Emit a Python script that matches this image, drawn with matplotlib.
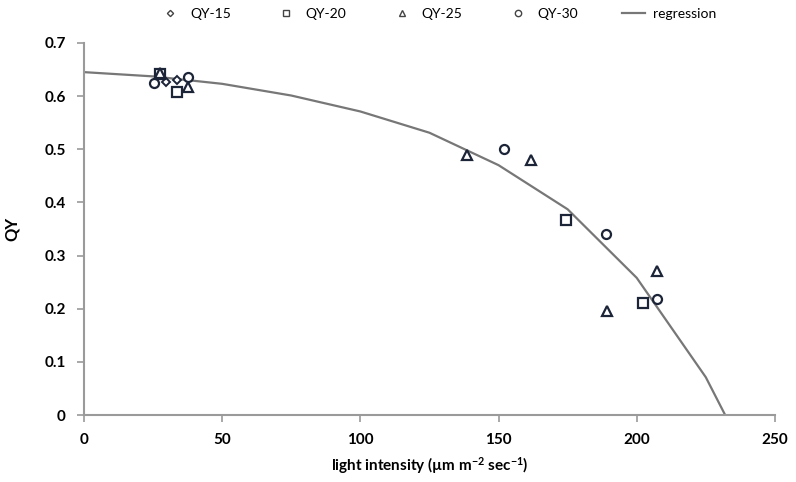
import matplotlib
matplotlib.use('Agg')
import matplotlib.pyplot as plt

plt.rcParams['font.family'] = ['Lato', 'DejaVu Sans']
plt.rcParams['mathtext.default'] = 'regular'

# data
qy15_x = [29.7, 33.6]
qy15_y = [0.627, 0.631]
qy20_x = [27.5, 33.5, 174.4, 202.2]
qy20_y = [0.642, 0.607, 0.367, 0.211]
qy25_x = [27.5, 37.5, 138.6, 161.7, 189.2, 207.3]
qy25_y = [0.643, 0.617, 0.489, 0.479, 0.195, 0.271]
qy30_x = [25.3, 37.6, 152.0, 188.9, 207.3]
qy30_y = [0.624, 0.635, 0.500, 0.340, 0.218]
reg_x = [0, 25, 50, 75, 100, 125, 150, 175, 200, 225, 232]
reg_y = [0.645, 0.637, 0.623, 0.601, 0.571, 0.531, 0.470, 0.387, 0.258, 0.071, 0.0]

edge = '#1c2438'
gray = '#9a9a9a'

fig = plt.figure(figsize=(7.96, 4.82), dpi=100)
ax = fig.add_axes([0.1055, 0.139, 0.868, 0.772])

ms = 6.5
ax.plot(qy15_x, qy15_y, 'D', ms=4.5, mfc='white', mec=edge, mew=1.4, ls='none', label='QY-15')
ax.plot(qy20_x, qy20_y, 's', ms=ms, mfc='white', mec=edge, mew=1.6, ls='none', label='QY-20')
ax.plot(qy25_x, qy25_y, '^', ms=ms, mfc='white', mec=edge, mew=1.6, ls='none', label='QY-25')
ax.plot(qy30_x, qy30_y, 'o', ms=ms, mfc='white', mec=edge, mew=1.6, ls='none', label='QY-30')
ax.plot(reg_x, reg_y, color='#777777', lw=1.6, label='regression', zorder=1)

ax.set_xlim(0, 250)
ax.set_ylim(0, 0.7)
ax.set_xticks([0, 50, 100, 150, 200, 250])
ax.set_yticks([0, 0.1, 0.2, 0.3, 0.4, 0.5, 0.6, 0.7])
ax.set_yticklabels(['0', '0.1', '0.2', '0.3', '0.4', '0.5', '0.6', '0.7'])

for s in ['top', 'right']:
    ax.spines[s].set_visible(False)
for s in ['left', 'bottom']:
    ax.spines[s].set_color(gray)
    ax.spines[s].set_linewidth(1.5)
ax.tick_params(colors=gray, width=1.2, length=5, labelcolor='black', labelsize=11, pad=8)
for lab in ax.get_xticklabels() + ax.get_yticklabels():
    lab.set_fontweight('bold')

ax.set_xlabel('light intensity (µm m$^{-2}$ sec$^{-1}$)', fontsize=11, fontweight='bold', labelpad=6)
ax.set_ylabel('QY', fontsize=12, fontweight='bold', labelpad=18)

leg = fig.legend(loc='upper center', bbox_to_anchor=(0.55, 1.01), ncol=5, frameon=False,
                 fontsize=10, columnspacing=3.2, handlelength=1.6, handletextpad=0.6,
                 markerscale=0.7)
for h in leg.get_lines():
    h.set_markeredgewidth(1.0)
    h.set_markeredgecolor('#444444')

fig.savefig('out.png', dpi=100)
